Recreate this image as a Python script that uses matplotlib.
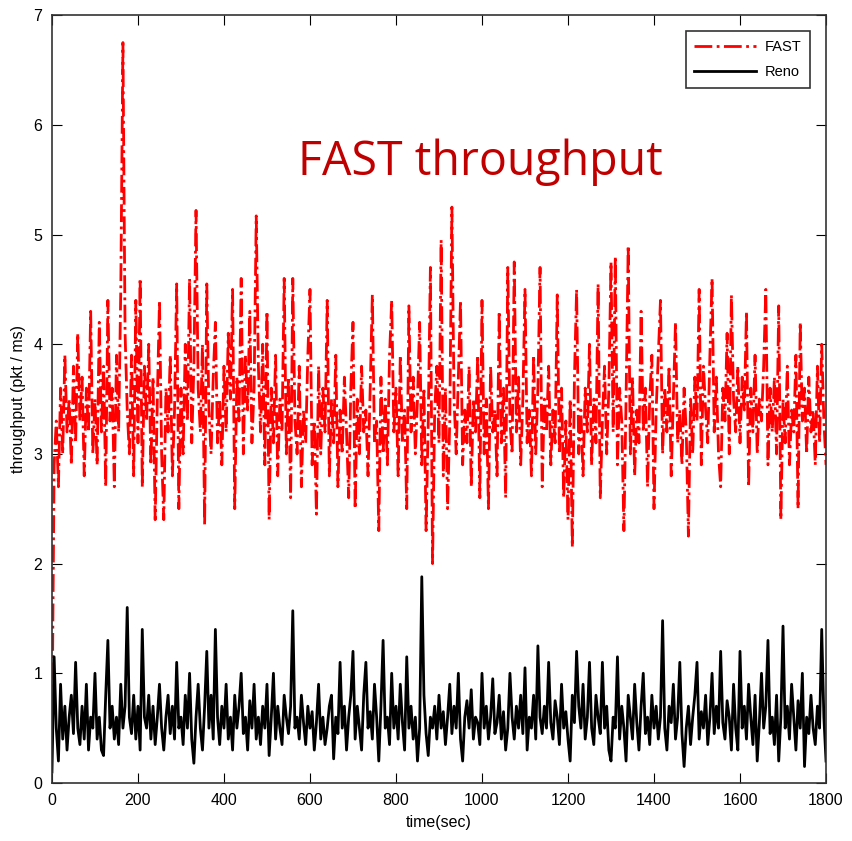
import numpy as np
import matplotlib
matplotlib.use("Agg")
import matplotlib.pyplot as plt

# sample every 5 s, 0..1800
step = 5

fast = [
    0.4, 2.9, 3.3, 2.7, 3.6, 3.0, 3.9, 3.2, 3.5, 2.9, 3.8, 3.1, 4.1, 3.3, 3.7, 2.8, 3.6, 3.2, 4.3, 3.0,
    3.5, 2.9, 4.2, 3.2, 3.8, 2.7, 4.4, 3.3, 3.6, 2.7, 3.9, 3.2, 4.5, 6.75, 4.1, 3.4, 3.0, 3.9, 2.8, 4.4,
    3.1, 4.6, 2.7, 3.8, 3.3, 4.0, 2.9, 3.7, 2.4, 3.5, 4.4, 3.0, 2.4, 3.6, 3.2, 3.9, 2.8, 3.4, 4.55, 2.5,
    3.6, 3.0, 4.0, 3.3, 4.6, 3.1, 3.8, 5.22, 3.6, 3.2, 4.0, 2.35, 4.55, 3.4, 3.0, 3.7, 4.2, 3.1, 3.5, 2.9,
    3.8, 3.2, 4.1, 3.5, 4.5, 2.5, 3.7, 3.3, 4.6, 3.0, 3.9, 3.4, 4.3, 3.1, 3.6, 5.17, 3.8, 3.2, 4.0, 2.9,
    4.3, 2.4, 3.6, 3.1, 3.9, 2.8, 3.5, 3.2, 4.6, 3.0, 3.7, 2.6, 4.6, 3.3, 3.0, 3.8, 2.7, 3.4, 3.1, 3.9,
    4.5, 2.9, 3.3, 2.45, 3.8, 3.0, 3.6, 3.2, 4.4, 2.8, 3.5, 3.1, 3.9, 2.7, 3.4, 3.0, 3.7, 3.2, 2.6, 3.6,
    4.2, 2.5, 3.5, 3.0, 3.8, 3.2, 3.4, 2.8, 3.6, 4.45, 3.1, 3.3, 2.3, 3.7, 3.0, 3.5, 2.9, 3.9, 4.4, 3.2,
    3.6, 2.8, 3.9, 3.1, 3.4, 2.5, 4.35, 3.2, 3.7, 3.0, 3.5, 4.2, 2.9, 3.6, 2.3, 3.3, 4.7, 2.0, 3.4, 3.8,
    3.1, 4.95, 2.8, 3.6, 2.5, 3.3, 5.25, 3.5, 3.0, 3.7, 4.4, 2.9, 3.4, 3.1, 3.8, 2.7, 3.5, 3.2, 3.9, 2.6,
    4.4, 3.0, 3.5, 2.5, 3.8, 3.2, 3.4, 2.8, 4.3, 3.1, 3.6, 2.6, 4.7, 3.3, 3.0, 4.75, 3.2, 3.7, 2.9, 3.5,
    4.5, 3.1, 3.4, 2.8, 3.9, 3.0, 3.6, 4.7, 2.7, 3.5, 3.2, 3.8, 2.9, 3.4, 3.1, 4.45, 3.0, 3.6, 2.6, 3.3,
    2.4, 3.5, 2.15, 3.7, 4.5, 3.0, 3.4, 2.8, 3.6, 3.2, 4.0, 2.9, 3.5, 3.1, 4.55, 2.6, 3.3, 3.8, 3.0, 3.6,
    4.75, 3.2, 4.8, 2.9, 3.6, 3.3, 2.3, 3.5, 4.9, 3.0, 3.7, 2.8, 3.4, 3.1, 4.3, 3.2, 3.6, 2.7, 3.5, 3.9,
    2.5, 3.4, 3.9, 4.4, 3.0, 3.6, 3.2, 3.8, 2.8, 3.5, 4.2, 3.1, 3.4, 2.9, 3.6, 3.2, 2.25, 3.5, 3.0, 3.7,
    3.3, 4.5, 2.9, 3.8, 3.4, 3.1, 3.9, 4.6, 3.2, 3.7, 3.0, 2.7, 3.6, 3.3, 4.1, 3.0, 4.45, 3.5, 3.2, 3.8,
    3.1, 3.7, 3.4, 4.3, 2.7, 3.6, 3.2, 3.9, 3.0, 3.5, 3.3, 3.8, 4.5, 2.9, 3.6, 3.2, 3.7, 3.0, 4.35, 2.4,
    3.5, 3.1, 3.8, 2.9, 3.4, 3.2, 3.9, 2.5, 4.2, 3.3, 3.6, 3.0, 3.7, 3.2, 3.4, 2.9, 3.8, 3.1, 4.0, 3.3,
    2.9,
]

reno = [
    0.1, 1.15, 0.5, 0.2, 0.9, 0.4, 0.7, 0.3, 0.6, 0.8, 0.45, 1.1, 0.5, 0.35, 0.7, 0.4, 0.9, 0.3, 0.6, 0.5,
    1.0, 0.4, 0.6, 0.3, 0.25, 0.8, 1.3, 0.5, 0.7, 0.4, 0.6, 0.35, 0.9, 0.5, 0.7, 1.6, 0.6, 0.45, 0.8, 0.4,
    0.7, 0.3, 1.4, 0.6, 0.5, 0.8, 0.4, 0.7, 0.35, 0.6, 0.9, 0.5, 0.3, 0.6, 0.8, 0.45, 0.7, 0.4, 1.1, 0.5,
    0.6, 0.35, 0.8, 0.5, 1.0, 0.4, 0.18, 0.6, 0.9, 0.5, 0.3, 0.7, 1.2, 0.5, 0.8, 0.4, 1.4, 0.6, 0.35, 0.7,
    0.5, 0.9, 0.4, 0.6, 0.3, 0.8, 0.5, 0.7, 1.0, 0.45, 0.6, 0.3, 0.75, 0.5, 0.9, 0.4, 0.6, 0.35, 0.7, 0.5,
    0.9, 0.25, 0.6, 1.0, 0.4, 0.7, 0.5, 0.35, 0.8, 0.6, 0.45, 0.7, 1.57, 0.5, 0.6, 0.4, 0.8, 0.55, 0.35, 0.7,
    0.5, 0.65, 0.3, 0.55, 0.9, 0.4, 0.6, 0.35, 0.5, 0.7, 0.8, 0.22, 0.6, 0.45, 1.1, 0.5, 0.7, 0.3, 0.6, 0.8,
    1.2, 0.4, 0.7, 0.5, 0.3, 0.8, 1.1, 0.5, 0.65, 0.4, 0.9, 0.6, 0.2, 0.7, 1.3, 0.5, 0.6, 0.35, 1.0, 0.5,
    0.7, 0.4, 0.9, 0.55, 0.3, 1.15, 0.5, 0.7, 0.4, 0.6, 0.2, 0.5, 1.88, 0.8, 0.45, 0.25, 0.6, 0.5, 0.7, 0.4,
    0.8, 0.5, 0.65, 0.35, 0.6, 0.9, 0.45, 0.7, 0.5, 1.0, 0.4, 0.2, 0.6, 0.75, 0.5, 0.85, 0.4, 0.6, 0.55, 0.35,
    1.0, 0.5, 0.7, 0.4, 0.6, 0.95, 0.45, 0.55, 0.8, 0.4, 0.65, 0.3, 0.5, 1.0, 0.6, 0.4, 0.7, 0.5, 0.8, 0.45,
    1.05, 0.3, 0.6, 0.5, 0.8, 0.4, 1.25, 0.6, 0.45, 0.7, 0.5, 1.1, 0.55, 0.4, 0.75, 0.6, 0.35, 0.9, 0.5, 0.65,
    0.4, 0.2, 0.8, 0.55, 1.2, 0.7, 0.5, 0.9, 0.4, 0.6, 1.1, 0.5, 0.35, 0.8, 0.6, 0.45, 1.1, 0.5, 0.7, 0.3,
    0.2, 0.6, 0.5, 1.15, 0.4, 0.7, 0.5, 0.2, 0.8, 0.6, 0.4, 0.9, 0.55, 0.3, 0.7, 1.0, 0.45, 0.6, 0.35, 0.8,
    0.5, 0.7, 0.4, 0.6, 1.48, 0.5, 0.3, 0.7, 0.55, 0.9, 0.4, 0.6, 1.1, 0.45, 0.15, 0.5, 0.7, 0.35, 0.6, 0.8,
    1.1, 0.4, 0.65, 0.5, 0.8, 0.35, 0.6, 1.0, 0.45, 0.7, 0.5, 1.2, 0.55, 0.4, 0.75, 0.6, 0.3, 0.9, 0.5, 0.3,
    1.2, 0.5, 0.7, 0.4, 0.9, 0.6, 0.35, 0.8, 0.2, 0.55, 1.0, 0.5, 0.7, 1.3, 0.45, 0.6, 0.35, 0.8, 0.2, 0.6,
    1.43, 0.5, 0.7, 0.4, 0.9, 0.6, 0.3, 0.75, 0.5, 1.0, 0.15, 0.6, 0.45, 0.8, 0.5, 0.35, 0.7, 0.5, 1.4, 0.6,
    0.2,
]

t = np.arange(len(fast)) * step

plt.rcParams['font.family'] = ['Liberation Sans', 'DejaVu Sans']

fig = plt.figure(figsize=(8.52, 8.41), dpi=100)
ax = fig.add_axes([0.061, 0.069, 0.9085, 0.913])

ax.plot(t, fast, color='red', linestyle='-.', linewidth=2, label='FAST')
ax.plot(t, reno, color='black', linestyle='-', linewidth=2, label='Reno')

ax.set_xlim(0, 1800)
ax.set_ylim(0, 7)
ax.set_xticks(range(0, 1801, 200))
ax.set_yticks(range(0, 8))
ax.tick_params(direction='in', top=True, right=True, labelsize=11.5, length=7, pad=7)
for s in ax.spines.values():
    s.set_linewidth(1.2)
    s.set_color('#333333')

ax.set_xlabel('time(sec)', fontsize=11.5, labelpad=5)
ax.set_ylabel('throughput (pkt / ms)', fontsize=11.5, labelpad=5)

leg = ax.legend(loc='upper right', fontsize=10.5, frameon=True, fancybox=False,
                edgecolor='black', handlelength=4.2, labelspacing=0.75,
                borderaxespad=1.1, borderpad=0.6, handletextpad=0.6)
leg.get_frame().set_linewidth(1.2)

ax.text(0.553, 0.809, 'FAST throughput', transform=ax.transAxes, color='#c00000',
        fontsize=33.5, ha='center', va='center', family=['Open Sans', 'DejaVu Sans'])

fig.savefig('out.png', dpi=100)
